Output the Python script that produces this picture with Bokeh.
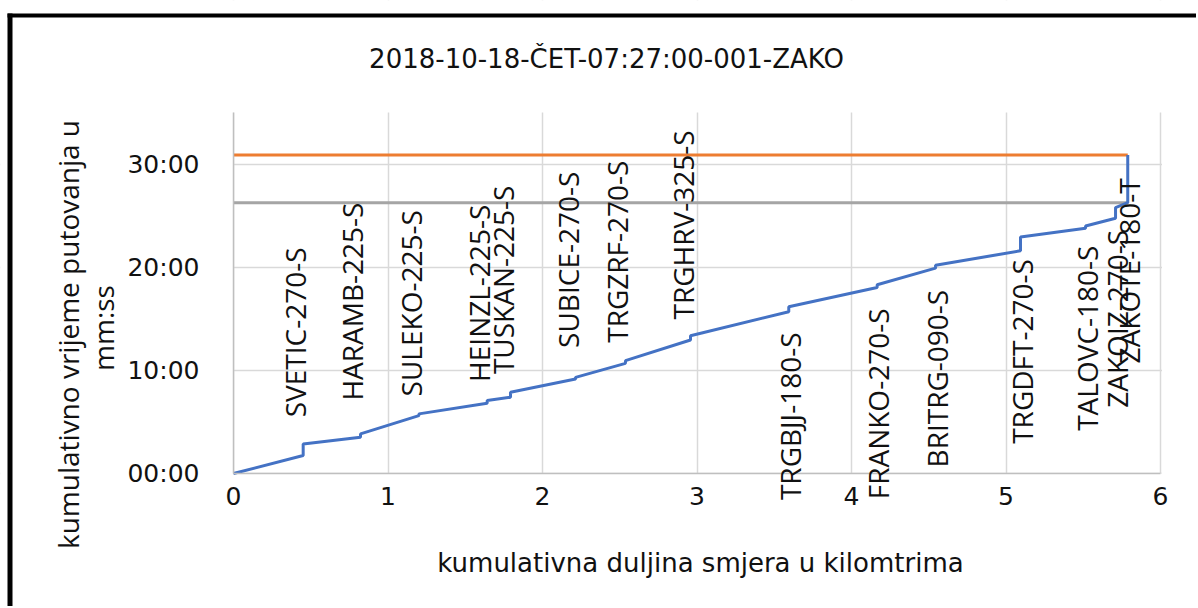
import math
from bokeh.plotting import figure
from bokeh.models import Range1d, LabelSet, Label, ColumnDataSource, FixedTicker, BoxAnnotation
from bokeh.core.properties import value
from bokeh.embed import file_html
from bokeh.resources import INLINE

# ---- data (minutes, km) ----
title_text = "2018-10-18-ČET-07:27:00-001-ZAKO"
x_title = "kumulativna duljina smjera u kilomtrima"
y_title_1 = "kumulativno vrijeme putovanja u"
y_title_2 = "mm:ss"

stations = ["SVETIC-270-S", "HARAMB-225-S", "SULEKO-225-S", "HEINZL-225-S", "TUSKAN-225-S",
            "SUBICE-270-S", "TRGZRF-270-S", "TRGHRV-325-S", "TRGBJJ-180-S", "FRANKO-270-S",
            "BRITRG-090-S", "TRGDFT-270-S", "TALOVC-180-S", "ZAKOIZ-270-S", "ZAKOTE-180-T"]
station_km = [0.451, 0.822, 1.200, 1.642, 1.793, 2.214, 2.537, 2.958, 3.594, 4.166,
              4.544, 5.094, 5.515, 5.709, 5.788]
arrive_min = [1.74, 3.52, 5.61, 6.81, 7.39, 9.16, 10.68, 12.94, 15.68, 18.04,
              19.91, 21.59, 23.78, 24.75, 26.26]
depart_min = [2.87, 3.84, 5.78, 7.07, 7.87, 9.32, 10.94, 13.36, 16.17, 18.30,
              20.20, 22.94, 24.00, 25.78, 30.88]
label_min = [13.68, 16.67, 16.50, 17.47, 18.78, 20.72, 21.51, 24.10, 5.55, 6.75,
             9.20, 11.83, 13.12, 15.00, 19.65]

planned_total_min = 30.88   # orange
actual_arrival_min = 26.26  # gray

x_ticks = [0, 1, 2, 3, 4, 5, 6]
y_ticks = [0, 10, 20, 30]
y_tick_labels = ["00:00", "10:00", "20:00", "30:00"]
X_MAX, Y_MAX = 6, 35

# ---- layout constants (pixels) ----
W, H = 1196, 606
PX_KM = 154.5      # pixels per km
PX_MIN = 10.314    # pixels per minute
X0_PX, Y0_PX = 233, 473   # canvas position of (0, 0)

xmin = -X0_PX / PX_KM
xmax = (W - X0_PX) / PX_KM
ymax = Y0_PX / PX_MIN
ymin = -(H - Y0_PX) / PX_MIN

def kx(px):   # canvas px -> km
    return (px - X0_PX) / PX_KM

def my(py):   # canvas px -> minutes
    return (Y0_PX - py) / PX_MIN

H_FONT = "DejaVu Sans"
V_FONT = "Open Sans"
TXT = "#111111"

# ---- build path ----
path_x = [0.0]
path_y = [0.0]
for km, a, d in zip(station_km, arrive_min, depart_min):
    path_x += [km, km]
    path_y += [a, d]

p = figure(width=W, height=H, output_backend="svg", toolbar_location=None,
           x_range=Range1d(xmin, xmax), y_range=Range1d(ymin, ymax),
           min_border=0)
p.outline_line_color = None
p.background_fill_color = "white"
p.border_fill_color = "white"

# axes at fixed location inside the frame
p.xaxis.fixed_location = 0
p.yaxis.fixed_location = 0
p.xaxis.bounds = (0, X_MAX)
p.yaxis.bounds = (0, Y_MAX)
for ax in (p.xaxis[0], p.yaxis[0]):
    ax.major_tick_line_color = None
    ax.minor_tick_line_color = None
    ax.axis_line_color = "#bfbfbf"
    ax.axis_line_width = 1.5
    ax.major_label_text_font = H_FONT
    ax.major_label_text_font_size = "25px"
    ax.major_label_text_color = TXT
p.xaxis.ticker = FixedTicker(ticks=x_ticks)
p.yaxis.ticker = FixedTicker(ticks=y_ticks)
p.yaxis.major_label_overrides = {t: l for t, l in zip(y_ticks, y_tick_labels)}
p.yaxis.major_label_standoff = 28
p.xaxis.major_label_standoff = 7

p.xgrid.ticker = FixedTicker(ticks=x_ticks)
p.ygrid.ticker = FixedTicker(ticks=y_ticks)
for g in (p.xgrid[0], p.ygrid[0]):
    g.grid_line_color = "#d9d9d9"
    g.grid_line_width = 1.5

# white masks so the grid stays inside the chart area
for kw in (dict(top=0), dict(bottom=Y_MAX), dict(right=0), dict(left=X_MAX + 1.5 / PX_KM)):
    p.add_layout(BoxAnnotation(fill_color="white", fill_alpha=1.0, line_color=None,
                               level="underlay", **kw))

# outer black frame (left and top edges)
p.add_layout(BoxAnnotation(left=kx(7), right=kx(12), top=my(13), fill_color="black",
                           fill_alpha=1.0, line_color=None, level="overlay"))
p.add_layout(BoxAnnotation(top=my(13), bottom=my(17), left=kx(7), fill_color="black",
                           fill_alpha=1.0, line_color=None, level="overlay"))

# lines
p.line([0, station_km[-1]], [planned_total_min, planned_total_min], line_color="#ED7D31", line_width=3)
p.line([0, station_km[-1]], [actual_arrival_min, actual_arrival_min], line_color="#A5A5A5", line_width=3)
p.line(path_x, path_y, line_color="#4472C4", line_width=3)

# station labels
offs = [-8 if lm > a else 1 for lm, a in zip(label_min, arrive_min)]
src = ColumnDataSource(dict(x=station_km, y=label_min, t=stations, o=offs))
p.add_layout(LabelSet(x="x", y="y", text="t", source=src, angle=math.pi / 2,
                      x_offset="o", text_align="center", text_baseline="middle",
                      text_font=value(V_FONT), text_font_size="28px", text_color=TXT))

# title and axis titles
def add_text(px, py, t, font, size, angle=0.0):
    p.add_layout(Label(x=kx(px), y=my(py), text=t, angle=angle, text_align="center",
                       text_baseline="middle", text_font=font, text_font_size=size,
                       text_color=TXT))

add_text(606, 58, title_text, H_FONT, "26px")
add_text(700, 562, x_title, H_FONT, "26px")
add_text(67, 334, y_title_1, V_FONT, "28px", math.pi / 2)
add_text(102.5, 327.5, y_title_2, V_FONT, "28px", math.pi / 2)

open("out.html", "w").write(file_html(p, INLINE))
